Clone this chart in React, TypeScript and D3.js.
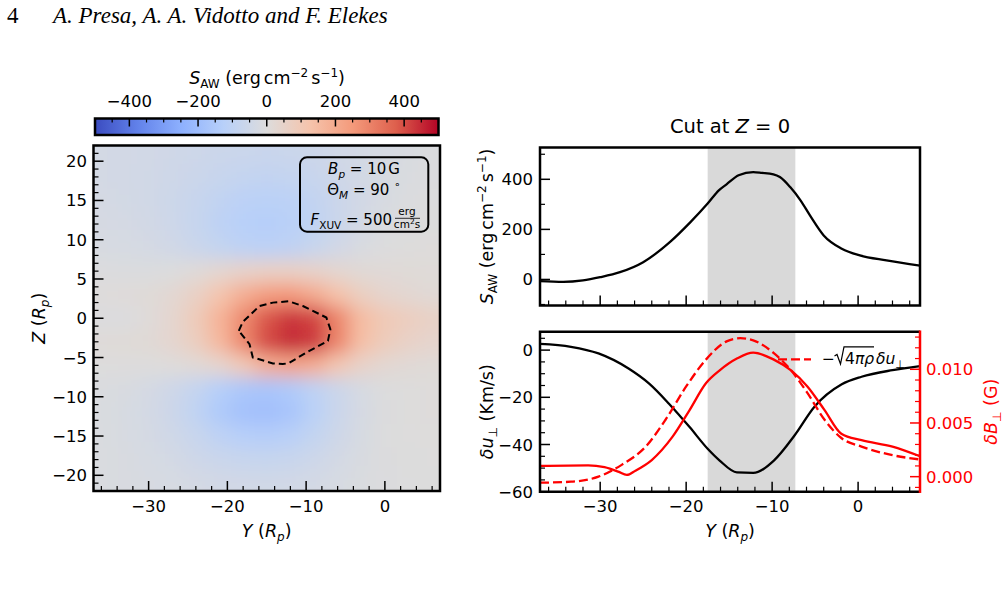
import React from "react";
import * as d3 from "d3";

const FONT = "'DejaVu Sans', sans-serif";
const SERIF = "'Liberation Serif', 'Times New Roman', serif";

// ---------- S_AW map in the Y–Z plane (erg cm^-2 s^-1), 3 R_p cells ----------
const gridY = [-36, -33, -30, -27, -24, -21, -18, -15, -12, -9, -6, -3, 0, 3, 6];
const gridZ = [21, 18, 15, 12, 9, 6, 3, 0, -3, -6, -9, -12, -15, -18, -21];
const sawRows: number[][] = [
  [-35, -38, -42, -48, -55, -60, -65, -68, -65, -58, -45, -34, -24, -16, -10],
  [-35, -38, -44, -52, -62, -75, -85, -90, -85, -72, -52, -36, -22, -12, -8],
  [-32, -36, -44, -56, -75, -95, -112, -118, -110, -90, -62, -38, -20, -10, -5],
  [-28, -32, -40, -55, -78, -105, -125, -132, -122, -98, -64, -34, -15, -6, -2],
  [-20, -24, -32, -45, -65, -88, -105, -110, -100, -75, -42, -16, -4, 2, 4],
  [-8, -10, -10, -5, 10, 30, 50, 62, 62, 50, 32, 18, 14, 12, 10],
  [5, 8, 12, 25, 60, 120, 190, 240, 250, 200, 130, 70, 40, 25, 18],
  [-8, -8, 9, 35, 90, 175, 285, 390, 435, 415, 295, 150, 98, 76, 58],
  [10, 12, 18, 35, 75, 160, 290, 405, 450, 430, 295, 140, 85, 55, 40],
  [0, 0, 0, 5, 15, 40, 100, 190, 220, 190, 110, 50, 25, 15, 12],
  [-12, -18, -30, -50, -85, -130, -160, -168, -150, -105, -60, -25, -5, 2, 5],
  [-15, -22, -35, -58, -98, -150, -182, -190, -168, -118, -65, -28, -6, 2, 4],
  [-15, -20, -30, -46, -72, -105, -128, -135, -120, -88, -50, -22, -5, 0, 2],
  [-15, -18, -25, -35, -50, -65, -75, -78, -70, -55, -35, -18, -6, -2, 0],
  [-15, -17, -20, -25, -32, -38, -42, -45, -42, -35, -25, -15, -8, -4, -2],
];

// Dashed contour enclosing the strongest flux
const contourY = [-18.55, -18.04, -15.92, -14.22, -12.19, -10.41, -7.43, -6.92, -7.23, -9.97, -12.19, -12.95, -14.22, -16.77, -17.19, -18.55];
const contourZ = [-1.6, -0.47, 1.56, 1.99, 2.16, 1.56, 0.09, -1.4, -2.88, -4.36, -5.71, -5.84, -5.75, -4.99, -3.3, -2.25];

// ---------- Cut at Z = 0 ----------
const cutY = [-37.0, -34.3, -32, -30, -27.7, -25, -21.9, -19.5, -17.5, -16.2, -15.3, -13.9, -12.2, -11.2, -9.85, -9.1, -7.9, -6.7, -5.6, -4.0, -1.9, 0.2, 3.3, 7.2];
const cutS = [-7, -10, -4, 9, 29, 69, 149, 229, 303, 356, 380, 416, 429, 426, 420, 409, 369, 316, 256, 176, 123, 96, 76, 55];

const duY = [-37, -33.4, -30.2, -26.7, -24.3, -22.0, -19.6, -17.5, -16.1, -14.1, -12.2, -9.8, -7.4, -5.1, -1.9, 0.4, 4.0, 7.2];
const duVal = [2.6, 1.4, -1.4, -7.8, -14.2, -22.7, -32.6, -41.8, -46.8, -51.8, -52, -46.8, -36.2, -24.1, -14.5, -11.3, -8.5, -6.8];

const dbY = [-37, -31.4, -29.5, -27.9, -26.9, -25.9, -24.0, -21.6, -19.6, -17.7, -16.1, -14.1, -12.2, -9.8, -7.8, -5.9, -3.9, -1.95, 0.4, 4.0, 7.2];
const dbVal = [0.001, 0.00106, 0.00088, 0.00047, 0.00016, 0.00056, 0.00155, 0.0037, 0.0062, 0.0087, 0.0099, 0.011, 0.01155, 0.0109, 0.0099, 0.0084, 0.0062, 0.004, 0.0034, 0.0028, 0.0019];

const wY = [-37, -33.4, -30.2, -27.5, -24.7, -22.4, -20.0, -17.7, -15.3, -13.7, -12.2, -9.8, -7.8, -5.9, -3.9, -1.95, 0.4, 4.0, 7.2];
const wVal = [-0.00056, -0.00047, 0.0, 0.0011, 0.0028, 0.0053, 0.0084, 0.0109, 0.0126, 0.0129, 0.0127, 0.0115, 0.0099, 0.0078, 0.0053, 0.0036, 0.0028, 0.002, 0.0016];

const spanY = [-17.5, -7.3];

// ---------- ticks ----------
const mapXTicks = [-30, -20, -10, 0];
const mapZTicks = [-20, -15, -10, -5, 0, 5, 10, 15, 20];
const cbarTicks = [-400, -200, 0, 200, 400];
const sawTicks = [0, 200, 400];
const duTicks = [0, -20, -40, -60];
const dbTicks = [0, 0.005, 0.01];
const dbLabels = ["0.000", "0.005", "0.010"];

const coolwarm = ["#3b4cc0", "#6282ea", "#8db0fe", "#b8d0f9", "#dddcdc", "#f5c4ac", "#f49a7b", "#de604d", "#b40426"];

const MAJ = 10;
const MIN = 5;
const TICK_FS = 16.5;
const LABEL_FS = 17.5;

function range(a: number, b: number, s: number) {
  const out: number[] = [];
  for (let v = a; v <= b + 1e-9; v += s) out.push(+v.toFixed(6));
  return out;
}

const fmt = (v: number) => (v < 0 ? "\u2212" + Math.abs(v) : String(v));

export default function App() {
  const cmap = d3
    .scaleLinear<string>()
    .domain(coolwarm.map((_, i) => -500 + (1000 * i) / (coolwarm.length - 1)))
    .range(coolwarm)
    .interpolate(d3.interpolateRgb)
    .clamp(true);

  // ---------- map panel ----------
  const L = { x0: 93.5, x1: 440, y0: 145.5, y1: 491 };
  const hx = d3.scaleLinear().domain([-37, 7]).range([L.x0, L.x1]);
  const hz = d3.scaleLinear().domain([-22, 22]).range([L.y1, L.y0]);

  const cells: JSX.Element[] = [];
  sawRows.forEach((row, i) =>
    row.forEach((v, j) => {
      let x0 = hx(gridY[j] - 1.5);
      let x1 = hx(gridY[j] + 1.5);
      let y0 = hz(gridZ[i] + 1.5);
      let y1 = hz(gridZ[i] - 1.5);
      if (j === 0) x0 -= 40;
      if (j === row.length - 1) x1 += 40;
      if (i === 0) y0 -= 40;
      if (i === sawRows.length - 1) y1 += 40;
      cells.push(
        <rect key={`c${i}-${j}`} x={x0} y={y0} width={x1 - x0 + 0.8} height={y1 - y0 + 0.8} fill={cmap(v)} />
      );
    })
  );

  const contourPath = d3
    .line<number>()
    .x((_, i) => hx(contourY[i]))
    .y((_, i) => hz(contourZ[i]))
    .curve(d3.curveLinearClosed)(contourY.slice(0, -1))!;

  // ---------- colorbar ----------
  const C = { x0: 95, x1: 438.5, y0: 118.5, y1: 135 };
  const cx = d3.scaleLinear().domain([-500, 500]).range([C.x0, C.x1]);

  // ---------- right panels ----------
  const R = { x0: 540, x1: 920 };
  const T = { y0: 147.5, y1: 305.5 };
  const B = { y0: 331.7, y1: 491.7 };
  const rx = d3.scaleLinear().domain([-37, 7.2]).range([R.x0, R.x1]);
  const ts = d3.scaleLinear().domain([-104, 527]).range([T.y1, T.y0]);
  const bu = d3.scaleLinear().domain([-60, 7.8]).range([B.y1, B.y0]);
  const bb = d3.scaleLinear().domain([-0.0014, 0.0135]).range([B.y1, B.y0]);

  const lineOf = (xs: number[], ys: number[], sy: d3.ScaleLinear<number, number>) =>
    d3
      .line<number>()
      .x((_, i) => rx(xs[i]))
      .y((_, i) => sy(ys[i]))
      .curve(d3.curveMonotoneX)(xs)!;

  const tickLine = (key: string, x1: number, y1: number, x2: number, y2: number, w: number, c = "#000") => (
    <line key={key} x1={x1} y1={y1} x2={x2} y2={y2} stroke={c} strokeWidth={w} />
  );

  const isMajor = (v: number, majors: number[]) => majors.some((m) => Math.abs(m - v) < 1e-9);

  const it = { fontStyle: "italic" as const };

  const yRp = (
    <>
      <tspan {...it}>R</tspan>
      <tspan fontSize={12} dy={3.5} {...it}>p</tspan>
      <tspan dy={-3.5}>)</tspan>
    </>
  );

  const sawUnit = (
    <>
      <tspan {...it}>S</tspan>
      <tspan fontSize={12} dy={4}>AW</tspan>
      <tspan dy={-4}> (erg</tspan>
      <tspan dx={3}>cm</tspan>
      <tspan fontSize={12} dy={-7}>{"\u22122"}</tspan>
      <tspan dy={7} dx={3}>s</tspan>
      <tspan fontSize={12} dy={-7}>{"\u22121"}</tspan>
      <tspan dy={7}>)</tspan>
    </>
  );

  return (
    <svg
      width={1006}
      height={601}
      viewBox="0 0 1006 601"
      style={{ position: "absolute", left: 0, top: 0, background: "#fff" }}
      fontFamily={FONT}
    >
      <defs>
        <filter id="smooth" x="-20%" y="-20%" width="140%" height="140%">
          <feGaussianBlur stdDeviation={9} />
        </filter>
        <clipPath id="mapClip">
          <rect x={L.x0} y={L.y0} width={L.x1 - L.x0} height={L.y1 - L.y0} />
        </clipPath>
        <linearGradient id="cbarGrad" x1="0" x2="1" y1="0" y2="0">
          {coolwarm.map((c, i) => (
            <stop key={i} offset={i / (coolwarm.length - 1)} stopColor={c} />
          ))}
        </linearGradient>
      </defs>

      {/* running header */}
      <text x={7} y={23} fontFamily={SERIF} fontSize={23}>4</text>
      <text x={53} y={23} fontFamily={SERIF} fontSize={23} fontStyle="italic">
        A. Presa, A. A. Vidotto and F. Elekes
      </text>

      {/* ---------- colorbar ---------- */}
      <rect x={C.x0} y={C.y0} width={C.x1 - C.x0} height={C.y1 - C.y0} fill="url(#cbarGrad)" />
      {range(-500, 500, 50).map((v) =>
        tickLine(`cb${v}`, cx(v), C.y0, cx(v), C.y0 + (isMajor(v, cbarTicks) ? 8 : 4), isMajor(v, cbarTicks) ? 1.5 : 1.2)
      )}
      <rect x={C.x0} y={C.y0} width={C.x1 - C.x0} height={C.y1 - C.y0} fill="none" stroke="#000" strokeWidth={2.5} />
      {cbarTicks.map((v) => (
        <text key={`cbl${v}`} x={cx(v)} y={107} fontSize={TICK_FS} textAnchor="middle">
          {fmt(v)}
        </text>
      ))}
      <text x={267} y={84} fontSize={LABEL_FS} textAnchor="middle">
        {sawUnit}
      </text>

      {/* ---------- map ---------- */}
      <g clipPath="url(#mapClip)">
        <g filter="url(#smooth)">{cells}</g>
      </g>
      <path d={contourPath} fill="none" stroke="#000" strokeWidth={2} strokeDasharray="7,4" />

      {/* parameter box */}
      <rect x={300} y={157.3} width={128.3} height={74.4} rx={7} fill="none" stroke="#000" strokeWidth={2} />
      <text x={364} y={174} fontSize={15} textAnchor="middle">
        <tspan {...it}>B</tspan>
        <tspan fontSize={10.5} dy={3.5} {...it}>p</tspan>
        <tspan dy={-3.5}> = 10</tspan>
        <tspan dx={2}>G</tspan>
      </text>
      <text x={364} y={195} fontSize={15} textAnchor="middle">
        <tspan>Θ</tspan>
        <tspan fontSize={10.5} dy={3.5} {...it}>M</tspan>
        <tspan dy={-3.5}> = 90 </tspan>
        <tspan fontSize={10.5} dy={-7}>∘</tspan>
        <tspan dy={7}> </tspan>
      </text>
      <text x={392} y={225} fontSize={15} textAnchor="end">
        <tspan {...it}>F</tspan>
        <tspan fontSize={10.5} dy={3.5}>XUV</tspan>
        <tspan dy={-3.5}> = 500</tspan>
      </text>
      <text x={407} y={215} fontSize={10.5} textAnchor="middle">erg</text>
      <line x1={395} x2={420} y1={218.3} y2={218.3} stroke="#000" strokeWidth={0.8} />
      <text x={407} y={228} fontSize={10.5} textAnchor="middle">
        cm<tspan fontSize={7.5} dy={-4}>2</tspan>
        <tspan dy={4}>s</tspan>
      </text>

      {/* map ticks */}
      {range(-36, 6, 2).map((v) =>
        tickLine(`mx${v}`, hx(v), L.y1, hx(v), L.y1 - (isMajor(v, mapXTicks) ? MAJ : MIN), isMajor(v, mapXTicks) ? 1.5 : 1.2)
      )}
      {range(-22, 22, 1).map((v) =>
        tickLine(`mz${v}`, L.x0, hz(v), L.x0 + (isMajor(v, mapZTicks) ? MAJ : MIN), hz(v), isMajor(v, mapZTicks) ? 1.5 : 1.2)
      )}
      <rect x={L.x0} y={L.y0} width={L.x1 - L.x0} height={L.y1 - L.y0} fill="none" stroke="#000" strokeWidth={2.5} />
      {mapXTicks.map((v) => (
        <text key={`mxl${v}`} x={hx(v)} y={512} fontSize={TICK_FS} textAnchor="middle">
          {fmt(v)}
        </text>
      ))}
      {mapZTicks.map((v) => (
        <text key={`mzl${v}`} x={87} y={hz(v) + 6} fontSize={TICK_FS} textAnchor="end">
          {fmt(v)}
        </text>
      ))}
      <text x={266.7} y={537} fontSize={LABEL_FS} textAnchor="middle">
        <tspan {...it}>Y</tspan>
        <tspan> (</tspan>
        {yRp}
      </text>
      <text transform={`translate(45,${(L.y0 + L.y1) / 2}) rotate(-90)`} fontSize={LABEL_FS} textAnchor="middle">
        <tspan {...it}>Z</tspan>
        <tspan> (</tspan>
        {yRp}
      </text>

      {/* ---------- top right: cut of S_AW ---------- */}
      <text x={(R.x0 + R.x1) / 2} y={133} fontSize={19.5} textAnchor="middle">
        <tspan>Cut at </tspan>
        <tspan {...it}>Z</tspan>
        <tspan> = 0</tspan>
      </text>
      <rect x={rx(spanY[0])} y={T.y0} width={rx(spanY[1]) - rx(spanY[0])} height={T.y1 - T.y0} fill="#d9d9d9" />
      <path d={lineOf(cutY, cutS, ts)} fill="none" stroke="#000" strokeWidth={2.3} strokeLinejoin="round" />
      {range(-36, 6, 2).map((v) =>
        tickLine(`tx${v}`, rx(v), T.y1, rx(v), T.y1 - (isMajor(v, mapXTicks) ? MAJ : MIN), isMajor(v, mapXTicks) ? 1.5 : 1.2)
      )}
      {range(-100, 500, 100).map((v) =>
        tickLine(`ty${v}`, R.x0, ts(v), R.x0 + (isMajor(v, sawTicks) ? MAJ : MIN), ts(v), isMajor(v, sawTicks) ? 1.5 : 1.2)
      )}
      <rect x={R.x0} y={T.y0} width={R.x1 - R.x0} height={T.y1 - T.y0} fill="none" stroke="#000" strokeWidth={2.5} />
      {sawTicks.map((v) => (
        <text key={`tyl${v}`} x={533} y={ts(v) + 6} fontSize={TICK_FS} textAnchor="end">
          {v}
        </text>
      ))}
      <text transform={`translate(493,${(T.y0 + T.y1) / 2}) rotate(-90)`} fontSize={LABEL_FS} textAnchor="middle">
        {sawUnit}
      </text>

      {/* ---------- bottom right: perturbations ---------- */}
      <rect x={rx(spanY[0])} y={B.y0} width={rx(spanY[1]) - rx(spanY[0])} height={B.y1 - B.y0} fill="#d9d9d9" />
      <path d={lineOf(duY, duVal, bu)} fill="none" stroke="#000" strokeWidth={2.3} strokeLinejoin="round" />
      <path d={lineOf(dbY, dbVal, bb)} fill="none" stroke="#ff0000" strokeWidth={2.3} strokeLinejoin="round" />
      <path d={lineOf(wY, wVal, bb)} fill="none" stroke="#ff0000" strokeWidth={2.3} strokeDasharray="9,4" />

      {/* legend */}
      <line x1={778} x2={811} y1={359.3} y2={359.3} stroke="#ff0000" strokeWidth={2.3} strokeDasharray="9,4" />
      <text x={822} y={364} fontSize={15.5}>{"\u2212"}</text>
      <polyline points="834.5,356 837,354.5 840.5,364 844,346.8 874,346.8" fill="none" stroke="#000" strokeWidth={1.2} />
      <text x={845} y={364} fontSize={15.5}>
        4<tspan {...it}>πρ</tspan>
      </text>
      <text x={876} y={364} fontSize={15.5}>
        <tspan {...it}>δu</tspan>
        <tspan fontSize={11} dy={3.5}>⊥</tspan>
      </text>

      {range(-36, 6, 2).map((v) =>
        tickLine(`bx${v}`, rx(v), B.y1, rx(v), B.y1 - (isMajor(v, mapXTicks) ? MAJ : MIN), isMajor(v, mapXTicks) ? 1.5 : 1.2)
      )}
      {range(-60, 5, 5).map((v) =>
        tickLine(`by${v}`, R.x0, bu(v), R.x0 + (isMajor(v, duTicks) ? MAJ : MIN), bu(v), isMajor(v, duTicks) ? 1.5 : 1.2)
      )}
      {range(-0.001, 0.013, 0.001).map((v) =>
        tickLine(`bb${v}`, R.x1, bb(v), R.x1 - (isMajor(v, dbTicks) ? MAJ : MIN), bb(v), isMajor(v, dbTicks) ? 1.5 : 1.2, "#ff0000")
      )}
      <path d={`M${R.x1},${B.y0} H${R.x0} V${B.y1} H${R.x1}`} fill="none" stroke="#000" strokeWidth={2.5} />
      <line x1={R.x1} x2={R.x1} y1={B.y0 - 1.25} y2={B.y1 + 1.25} stroke="#ff0000" strokeWidth={2.5} />
      {duTicks.map((v) => (
        <text key={`byl${v}`} x={533} y={bu(v) + 6} fontSize={TICK_FS} textAnchor="end">
          {fmt(v)}
        </text>
      ))}
      {dbTicks.map((v, i) => (
        <text key={`bbl${v}`} x={926} y={bb(v) + 6} fontSize={TICK_FS} fill="#ff0000">
          {dbLabels[i]}
        </text>
      ))}
      {mapXTicks.map((v) => (
        <text key={`bxl${v}`} x={rx(v)} y={512} fontSize={TICK_FS} textAnchor="middle">
          {fmt(v)}
        </text>
      ))}
      <text x={(R.x0 + R.x1) / 2} y={537} fontSize={LABEL_FS} textAnchor="middle">
        <tspan {...it}>Y</tspan>
        <tspan> (</tspan>
        {yRp}
      </text>
      <text transform={`translate(493,${(B.y0 + B.y1) / 2}) rotate(-90)`} fontSize={LABEL_FS} textAnchor="middle">
        <tspan {...it}>δu</tspan>
        <tspan fontSize={12} dy={3.5}>⊥</tspan>
        <tspan dy={-3.5}> (Km/s)</tspan>
      </text>
      <text
        transform={`translate(997,${(B.y0 + B.y1) / 2}) rotate(-90)`}
        fontSize={LABEL_FS}
        textAnchor="middle"
        fill="#ff0000"
      >
        <tspan {...it}>δB</tspan>
        <tspan fontSize={12} dy={3.5}>⊥</tspan>
        <tspan dy={-3.5}> (G)</tspan>
      </text>
    </svg>
  );
}
